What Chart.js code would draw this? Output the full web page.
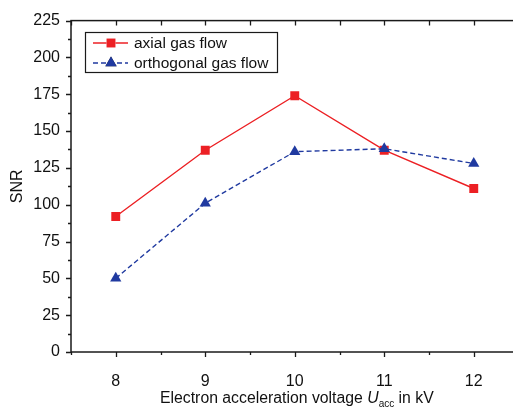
<!doctype html>
<html lang="en">
  <head>
    <meta charset="utf-8">
    <title>SNR vs acceleration voltage</title>
    <style>
      * { margin: 0; padding: 0; }
      body { width: 513px; height: 408px; overflow: hidden; background: #fff; }
      canvas { display: block; }
    </style>
  </head>
  <body>
    <canvas id="myChart" width="525" height="408"></canvas>
    <script src="https://cdn.jsdelivr.net/npm/chart.js/dist/chart.umd.min.js"></script>
    <script>

    // data
    const voltages = [8, 9, 10, 11, 12];
    const axialSNR = [92, 137, 174, 137, 111];
    const orthoSNR = [50, 101, 136, 138, 128];
    const xTickValues = [8, 9, 10, 11, 12];
    const yTickValues = [0, 25, 50, 75, 100, 125, 150, 175, 200, 225];
    const seriesNames = ['axial gas flow', 'orthogonal gas flow'];

    const FONT = '"Liberation Sans", Arial, sans-serif';
    const RED = 'rgb(236, 32, 36)';
    const BLUE = 'rgb(32, 58, 160)';
    const AXIS = '#1a1a1a';

    const toXY = (xs, ys) => xs.map((x, i) => ({x: x, y: ys[i]}));

    // frame, ticks (in and out), titles and legend
    const framePlugin = {
      id: 'originFrame',
      beforeDatasetsDraw(chart) {
        const {ctx, chartArea: {left, right, top, bottom}, scales: {x, y}} = chart;
        ctx.save();
        ctx.strokeStyle = AXIS;
        ctx.lineWidth = 1.3;
        ctx.beginPath();
        // bottom + left: outward ticks, major and minor
        for (let v = 7.5; v <= 12.5; v += 0.5) {
          const px = Math.round(x.getPixelForValue(v)) + 0.5;
          const len = Number.isInteger(v) ? 5 : 3;
          ctx.moveTo(px, bottom); ctx.lineTo(px, bottom + len);
          // top: inward
          ctx.moveTo(px, top); ctx.lineTo(px, top + 5);
        }
        for (let v = 0; v <= 225; v += 12.5) {
          const py = Math.round(y.getPixelForValue(v)) + 0.5;
          const len = (v % 25 === 0) ? 5 : 3;
          ctx.moveTo(left, py); ctx.lineTo(left - len, py);
          if (v % 25 === 0) { ctx.moveTo(right, py); ctx.lineTo(right - 5, py); }
        }
        ctx.stroke();
        ctx.lineWidth = 1.5;
        ctx.strokeRect(left, top, right - left, bottom - top);
        ctx.restore();
      },
      afterDraw(chart) {
        const {ctx, chartArea: {left, right, top, bottom}} = chart;
        ctx.save();
        ctx.fillStyle = '#111';
        // y title
        ctx.font = '16px ' + FONT;
        ctx.textAlign = 'center';
        ctx.textBaseline = 'middle';
        ctx.translate(18, (top + bottom) / 2);
        ctx.rotate(-Math.PI / 2);
        ctx.fillText('SNR', 0, 0);
        ctx.restore();

        // x title with italic U and subscript
        ctx.save();
        ctx.fillStyle = '#111';
        ctx.textBaseline = 'alphabetic';
        const parts = [
          {t: 'Electron acceleration voltage ', f: '15.8px ' + FONT, dy: 0},
          {t: 'U', f: 'italic 15.8px ' + FONT, dy: 0},
          {t: 'acc', f: '10px ' + FONT, dy: 4},
          {t: ' in kV', f: '15.8px ' + FONT, dy: 0}
        ];
        parts.forEach(p => { ctx.font = p.f; p.w = ctx.measureText(p.t).width; });
        let cx = 160;
        const base = 403;
        parts.forEach(p => { ctx.font = p.f; ctx.fillText(p.t, cx, base + p.dy); cx += p.w; });
        ctx.restore();

        // legend box
        ctx.save();
        const bx = 85.5, by = 32.5, bw = 192, bh = 40;
        ctx.fillStyle = '#fff';
        ctx.fillRect(bx, by, bw, bh);
        ctx.strokeStyle = AXIS;
        ctx.lineWidth = 1.2;
        ctx.strokeRect(bx, by, bw, bh);
        ctx.font = '15.5px ' + FONT;
        ctx.textBaseline = 'middle';
        ctx.textAlign = 'left';
        chart.data.datasets.forEach((ds, i) => {
          const ry = 43 + i * 20;
          ctx.strokeStyle = ds.borderColor;
          ctx.lineWidth = 1.3;
          ctx.setLineDash(ds.borderDash || []);
          ctx.beginPath();
          ctx.moveTo(93, ry); ctx.lineTo(128, ry);
          ctx.stroke();
          ctx.setLineDash([]);
          Chart.helpers.drawPoint(ctx, {
            pointStyle: ds.pointStyle, radius: ds.pointRadius, rotation: 0, borderWidth: 0
          }, 111, ry);
          ctx.fillStyle = ds.pointBackgroundColor;
          ctx.fill();
          ctx.fillStyle = '#111';
          ctx.fillText(ds.label, 134, ry + 1);
        });
        ctx.restore();
      }
    };

    const ctx = document.getElementById('myChart');

    const data = {
      datasets: [
        {
          label: seriesNames[0],
          data: toXY(voltages, axialSNR),
          borderColor: RED,
          borderWidth: 1.4,
          pointStyle: 'rect',
          pointRadius: 6.3,
          pointBackgroundColor: RED,
          pointBorderWidth: 0,
          tension: 0,
          order: 1
        },
        {
          label: seriesNames[1],
          data: toXY(voltages, orthoSNR),
          borderColor: BLUE,
          borderWidth: 1.4,
          borderDash: [5, 3],
          pointStyle: 'triangle',
          pointRadius: 6.5,
          pointBackgroundColor: BLUE,
          pointBorderWidth: 0,
          tension: 0,
          order: 0
        }
      ]
    };

    const config = {
      type: 'line',
      data,
      options: {
        responsive: false,
        animation: false,
        devicePixelRatio: 1,
        layout: { padding: { top: 18, right: 2, left: 0, bottom: 0 } },
        plugins: {
          legend: { display: false },
          tooltip: { enabled: false }
        },
        scales: {
          x: {
            type: 'linear',
            min: 7.5,
            max: 12.5,
            grid: { display: false, drawTicks: false },
            border: { display: false },
            afterBuildTicks: (scale) => { scale.ticks = xTickValues.map(v => ({value: v})); },
            afterFit: (scale) => { scale.height = 56; },
            ticks: {
              padding: 20,
              color: '#111',
              font: { family: FONT, size: 16 },
              autoSkip: false,
              maxRotation: 0
            }
          },
          y: {
            min: 0,
            max: 225,
            grid: { display: false, drawTicks: false },
            border: { display: false },
            afterBuildTicks: (scale) => { scale.ticks = yTickValues.map(v => ({value: v})); },
            afterFit: (scale) => { scale.width = 71; },
            ticks: {
              padding: 11,
              color: '#111',
              font: { family: FONT, size: 16 }
            }
          }
        }
      },
      plugins: [framePlugin]
    };

    const myChart = new Chart(ctx, config);
    </script>
  </body>
</html>
